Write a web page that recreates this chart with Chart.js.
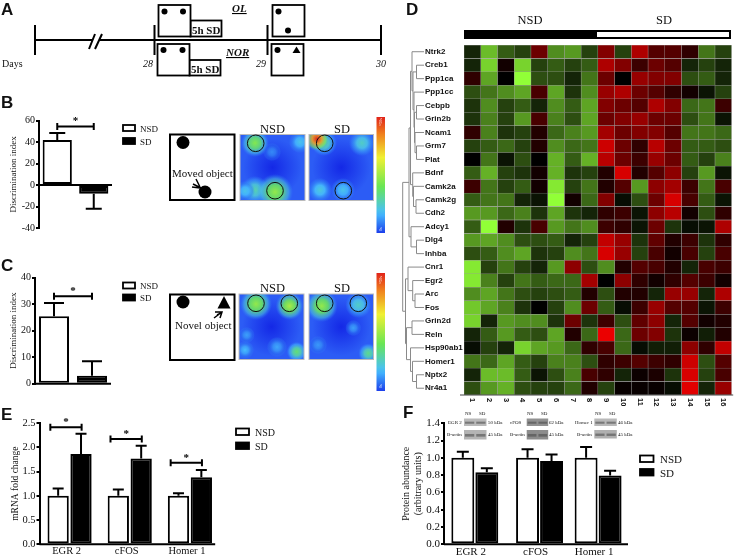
<!DOCTYPE html>
<html>
<head>
<meta charset="utf-8">
<title>Sleep deprivation figure</title>
<script src="https://cdn.jsdelivr.net/npm/chart.js@4"></script>
<style>
    html, body { margin: 0; padding: 0; background: #fff; }
    #page { position: relative; width: 736px; height: 557px; overflow: hidden; }
    #page canvas, #page svg { position: absolute; }
    svg text { font-family: "Liberation Serif", serif; fill: #111; }
    .letter { font-family: "Liberation Sans", sans-serif; font-weight: bold; font-size: 17px; }
</style>
</head>
<body>
<div id="page">
<canvas id="maps" width="736" height="557" style="left:0;top:0"></canvas>
<svg id="art" width="736" height="557" style="left:0;top:0">
    <text class="letter" x="1" y="15">A</text>
    <text class="letter" x="1" y="108">B</text>
    <text class="letter" x="1" y="271">C</text>
    <text class="letter" x="406" y="15">D</text>
    <text class="letter" x="1" y="420">E</text>
    <text class="letter" x="403" y="418">F</text>

    <!-- panel A timeline -->
    <g stroke="#000" fill="none">
        <path d="M35 40H381" stroke-width="1.8"/>
        <path d="M35 25V55M154.500 25V55M267.500 25V55M381 25V55" stroke-width="2"/>
        <path d="M92 40h8" stroke="#fff" stroke-width="4"/>
        <path d="M89 49L95 34M95 49L102 34" stroke-width="2"/>
        <g stroke-width="1.800" fill="#fff">
            <rect x="190.500" y="20.500" width="31" height="16"/>
            <rect x="158.500" y="5" width="32" height="31.500"/>
            <rect x="189.500" y="60" width="31" height="15.500"/>
            <rect x="157.500" y="44" width="32" height="31.500"/>
            <rect x="272.500" y="5" width="32" height="31.500"/>
            <rect x="271.500" y="44" width="32" height="31.500"/>
        </g>
    </g>
    <g fill="#000">
        <circle cx="164.500" cy="11.500" r="3"/><circle cx="183" cy="11.500" r="3"/>
        <circle cx="163.500" cy="50" r="3"/><circle cx="182.500" cy="50" r="3"/>
        <circle cx="278.500" cy="11.500" r="3"/><circle cx="288" cy="30.500" r="3"/>
        <circle cx="277.500" cy="50" r="3"/><path d="M292.500 53L296.500 46.500L300.500 53Z"/>
    </g>
    <g font-size="11" font-weight="bold">
        <text x="192" y="34">5h SD</text>
        <text x="191" y="73">5h SD</text>
    </g>
    <g font-size="11" font-weight="bold" font-style="italic" text-decoration="underline">
        <text x="232" y="12">OL</text>
        <text x="226" y="56">NOR</text>
    </g>
    <text x="2" y="67" font-size="10">Days</text>
    <g font-size="10" font-style="italic">
        <text x="143" y="67">28</text>
        <text x="256" y="67">29</text>
        <text x="376" y="67">30</text>
    </g>

    <!-- panel B schematic -->
    <rect x="170" y="134.500" width="64.500" height="65.500" fill="none" stroke="#000" stroke-width="2"/>
    <circle cx="183" cy="142.500" r="6.500"/><circle cx="205" cy="192" r="6.500"/>
    <text x="172" y="177" font-size="11">Moved object</text>
    <path d="M193 184L201 188M196 179L200 187M192 187L200 188" stroke="#000" stroke-width="1.500" fill="none"/>
    <text x="272.500" y="133" font-size="12.500" text-anchor="middle">NSD</text>
    <text x="342" y="133" font-size="12.500" text-anchor="middle">SD</text>

    <!-- panel C schematic -->
    <rect x="170" y="294.500" width="64.500" height="65.500" fill="none" stroke="#000" stroke-width="2"/>
    <circle cx="183" cy="302" r="6.500"/><path d="M217.500 308.500L224 296L230.500 308.500Z"/>
    <text x="175" y="329" font-size="11">Novel object</text>
    <path d="M214 318L222 312M215 312L222 312L220 318M217 315L221 313" stroke="#000" stroke-width="1.500" fill="none"/>
    <text x="272.500" y="292" font-size="12.500" text-anchor="middle">NSD</text>
    <text x="342" y="292" font-size="12.500" text-anchor="middle">SD</text>

    <!-- colour bar captions -->
    <g font-size="4" style="fill:#fff">
        <text transform="translate(382,126) rotate(-90)" style="fill:#fff">~50s</text>
        <text transform="translate(382,231) rotate(-90)" style="fill:#fff">0s</text>
        <text transform="translate(382,284) rotate(-90)" style="fill:#fff">~50s</text>
        <text transform="translate(382,388) rotate(-90)" style="fill:#fff">0s</text>
    </g>

    <!-- legends -->
    <g stroke="#000" stroke-width="1.800">
        <rect x="123" y="125" width="12" height="6" fill="#fff"/>
        <rect x="123" y="138" width="12" height="6" fill="#000"/>
        <rect x="123" y="282.500" width="12" height="6" fill="#fff"/>
        <rect x="123" y="294.500" width="12" height="6" fill="#000"/>
        <rect x="236" y="428.500" width="13" height="6.500" fill="#fff"/>
        <rect x="236" y="442.500" width="13" height="6.500" fill="#000"/>
        <rect x="640" y="455.500" width="13.500" height="6.500" fill="#fff"/>
        <rect x="640" y="469" width="13.500" height="6.500" fill="#000"/>
    </g>
    <g font-size="9">
        <text x="140" y="131.500">NSD</text><text x="140" y="144.500">SD</text>
        <text x="140" y="288.500">NSD</text><text x="140" y="301">SD</text>
    </g>
    <g font-size="10">
        <text x="255" y="435.500">NSD</text><text x="255" y="449.500">SD</text>
    </g>
    <g font-size="11">
        <text x="660" y="462.500">NSD</text><text x="660" y="476.500">SD</text>
    </g>

    <!-- panel D header -->
    <text x="530" y="23.500" font-size="12.500" text-anchor="middle">NSD</text>
    <text x="664" y="23.500" font-size="12.500" text-anchor="middle">SD</text>
    <rect x="464.500" y="30.500" width="266" height="8" fill="#000" stroke="#000"/>
    <rect x="597" y="32" width="132" height="5" fill="#fff"/>

    <!-- panel F blot captions -->
    <g font-size="5">
        <text x="465" y="415">NS</text><text x="479" y="415">SD</text>
        <text x="527" y="415">NS</text><text x="541" y="415">SD</text>
        <text x="595" y="415">NS</text><text x="609" y="415">SD</text>
        <text x="448" y="424">EGR 2</text><text x="447" y="436">B-actin</text>
        <text x="488" y="424">50 kDa</text><text x="488" y="436">45 kDa</text>
        <text x="510" y="424">cFOS</text><text x="510" y="436">B-actin</text>
        <text x="549" y="424">62 kDa</text><text x="549" y="436">45 kDa</text>
        <text x="575" y="424">Homer 1</text><text x="577" y="436">B-actin</text>
        <text x="618" y="424">46 kDa</text><text x="618" y="436">45 kDa</text>
    </g>
</svg>
<canvas id="chartB" width="112" height="124" style="left:0;top:112px"></canvas>
<canvas id="chartC" width="111" height="123" style="left:0;top:269px"></canvas>
<canvas id="chartE" width="220" height="143" style="left:0;top:414px"></canvas>
<canvas id="chartF" width="228" height="143" style="left:400px;top:414px"></canvas>
<canvas id="chartD" width="311" height="383" style="left:425px;top:37px"></canvas>
</div>

<script>
const groupNames = ['NSD', 'SD']

// panel B
const movedValues = [42, -8]
const movedErrors = [48.5, -22]
// panel C
const novelValues = [25.5, 3]
const novelErrors = [30.5, 8.5]
// panel E
const mrnaLabels = ['EGR 2', 'cFOS', 'Homer 1']
const mrnaNsd = [1, 1, 1]
const mrnaSd = [1.86, 1.77, 1.38]
const mrnaNsdErrors = [1.15, 1.13, 1.05]
const mrnaSdErrors = [2.28, 2.03, 1.53]
const mrnaBrackets = [2.41, 2.17, 1.68]
// panel F
const proteinLabels = ['EGR 2', 'cFOS', 'Homer 1']
const proteinNsd = [1, 1, 1]
const proteinSd = [0.835, 0.965, 0.795]
const proteinNsdErrors = [1.07, 1.10, 1.125]
const proteinSdErrors = [0.88, 1.04, 0.85]
const proteinGroupX = [0, 1.05, 2]

// panel D, rows are genes, columns samples 1-16, -10 green to 10 red
const genes = ['Ntrk2', 'Creb1', 'Ppp1ca', 'Ppp1cc', 'Cebpb', 'Grin2b', 'Ncam1', 'Grm7', 'Plat',
    'Bdnf', 'Camk2a', 'Camk2g', 'Cdh2', 'Adcy1', 'Dlg4', 'Inhba', 'Cnr1', 'Egr2', 'Arc', 'Fos',
    'Grin2d', 'Reln', 'Hsp90ab1', 'Homer1', 'Nptx2', 'Nr4a1']
const expression = [
    [-1, -7, -3, -2, 4, -5, -5.5, -2, 5, -2, 7, 3, 3, 1.5, -4, -2],
    [-1, -8, 0.5, -8, -2, -3, -2, -3, 7, 5, 2, 4, 3, -1, -2, -1],
    [1.5, -6, 0, -10, -2.5, -2.5, -1, -4, 4, 0, 6, 5, 5, -2.5, -3, -1],
    [-2.5, -4, -5, -6, 2.5, -6, -1.5, -5, 6, 7, 4, 3, 1.5, 0.5, -0.5, -2],
    [-1.5, -5, -2, -3, -1, -5, -3, -6, 5, 4, 3, 7, 5, -3.5, -4, 2],
    [-1.5, -4.5, -2, -5.5, 2.5, -4.5, -2.5, -6, 4, 5, 6, 4, 4, -2.5, -4, -0.5],
    [1.5, -4.5, -1.5, -2, 1, -3.5, -4.5, -5.5, 6.5, 4, 5, 5, 3, -4, -4, -3.5],
    [-2, -3, -3.5, -2, 1, -5, -3.5, -4, 8.5, 4, 1.5, 7.5, 4, -3, -3, -2.5],
    [0, -4, -0.5, -2.5, 0, -6.5, -3, -6.5, 7.5, 4, 2, 6, 4, -3, -2, -4.5],
    [-3, -6.5, -2, -1.5, 0.5, -6.5, -1.5, -2, 1, 9, 1, 3, 5.5, -2, -5.5, -0.5],
    [2, -4, -2, -3, 0.5, -9, -2, -4, 1, 3, -5.5, 5.5, 6.5, 2, -4, 2.5],
    [-3, -4, -4, -1, -0.5, -10, 0.5, -3.5, 5, -0.3, -2.5, 4, 9, 2.5, -3, -0.5],
    [-5.5, -5.5, -3.5, -4.5, -1.5, -6, -1.5, -1, 1.5, 2, -0.5, 5.5, 7.5, 0.5, -2.5, 1.5],
    [-3, -10, 1, -1.5, 2.5, -5.5, -4, -5, 2, 1.5, -0.5, 4, -1.5, -0.3, -0.5, 7],
    [-5.5, -6, -5, -2.5, -2.5, -3, -1, -2, 8, 6, -1.5, 3.5, 1, 2, -1.5, 1.5],
    [-2.5, -3, -5, -6, -1.5, -2, -5, -4, 9, 6, -2, 2.5, 0.5, 2.5, -2, 2.5],
    [-9, -2, -4, -2, -1, -5.5, 5.5, -2.5, -5, 1, 3, 2.5, 1, -1, 2.5, 2],
    [-9, -4.5, -2, -4, -3, -3.5, -3.5, 6.5, 0, 5.5, 1.5, 0.5, 1.5, 3, 2, 0.5],
    [-5, -6, -4, -2.5, -2, -2.5, -3, 1, -2.5, 1, 1, -1, 6, 6, -1, 7],
    [-7.5, -6, -4.5, -1.5, 0, -2, -5, 4, -3, -0.3, 2, 6, 3, 3, -0.5, 2],
    [-8, -1, -5.5, -5, -5, -1.5, 4, -1.5, 2, -2.5, 3.5, 5.5, -1, 3, 0.5, 1],
    [-1, -3, -5.5, -3, -2.5, -6, 1, -3.5, 10, -3.5, 4, 5, -1.5, 0.3, -0.8, 1],
    [-0.3, -2, -1, -8, -6, -5.5, -3.5, 1.5, 2.5, -3.5, -0.3, -0.8, -0.8, 5.5, 1.5, 8],
    [-4, -3.5, -6, -3, -2, -4.5, -4.5, -2.5, 1.5, 2, 3, 2, 1.5, 8.5, -2.5, 3],
    [-1, -7, -7, -3, -0.5, -2.5, -4.5, 2.5, 1.5, -1, 0.3, 0.8, -1.5, 9, -2, 2.5],
    [-2.5, -5.5, -6.5, -2.5, -2, -2, -3.5, 1, -2, 0.2, 0.2, 0.2, -0.3, 9.5, -1, 6]
]

const serif = 'Liberation Serif'

// whiskers, significance brackets and the zero line on top of the bars
function barMarks ({errors, capHalf, brackets, tick, baseValue, baseEnd}) {
    return {
        id: 'barMarks',
        afterDatasetsDraw (chart) {
            const {ctx, scales: {x, y}, chartArea} = chart
            ctx.save()
            ctx.strokeStyle = '#000'
            ctx.fillStyle = '#000'
            ctx.lineWidth = 2
            errors.forEach((list, i) => {
                chart.getDatasetMeta(i).data.forEach((bar, j) => {
                    if (list[j] === null) return
                    const ey = y.getPixelForValue(list[j])
                    ctx.beginPath()
                    ctx.moveTo(bar.x, bar.y)
                    ctx.lineTo(bar.x, ey)
                    ctx.moveTo(bar.x - capHalf, ey)
                    ctx.lineTo(bar.x + capHalf, ey)
                    ctx.stroke()
                })
            })
            brackets.forEach(b => {
                const x0 = x.getPixelForValue(b.from)
                const x1 = x.getPixelForValue(b.to)
                const by = y.getPixelForValue(b.y)
                ctx.beginPath()
                ctx.moveTo(x0, by - tick)
                ctx.lineTo(x0, by + tick)
                ctx.moveTo(x1, by - tick)
                ctx.lineTo(x1, by + tick)
                ctx.moveTo(x0, by)
                ctx.lineTo(x1, by)
                ctx.stroke()
                ctx.font = 'bold 11px "' + serif + '"'
                ctx.textAlign = 'center'
                ctx.textBaseline = 'middle'
                ctx.fillText('*', (x0 + x1) / 2, by - 5)
            })
            const base = y.getPixelForValue(baseValue)
            const end = baseEnd === undefined ? chartArea.right : x.getPixelForValue(baseEnd)
            ctx.beginPath()
            ctx.moveTo(chartArea.left, base)
            ctx.lineTo(end, base)
            ctx.stroke()
            ctx.restore()
        }
    }
}

function barChart (id, opts) {
    const {labels, series, grouped, yMin, yMax, step, digits, title, fontSize, titleFont, titlePad, yWidth, xHeight,
        pad, category, bar, xOptions} = opts
    const fills = ['#fff', '#000']
    return new Chart(document.getElementById(id), {
        type: 'bar',
        data: {
            labels: labels,
            datasets: series.map((values, i) => ({
                label: groupNames[i],
                data: values,
                backgroundColor: fills[i],
                borderColor: '#000',
                borderWidth: 2,
                borderSkipped: false,
                grouped: grouped,
                categoryPercentage: category,
                barPercentage: bar
            }))
        },
        options: {
            responsive: false,
            animation: false,
            layout: {padding: pad},
            plugins: {legend: {display: false}, tooltip: {enabled: false}},
            scales: {
                x: Object.assign({
                    display: xHeight > 0,
                    grid: {display: false, drawTicks: false},
                    border: {display: false},
                    ticks: {color: '#111', padding: 1, labelOffset: -3, maxRotation: 0,
                        font: {family: serif, size: fontSize}},
                    afterFit: s => { s.height = xHeight }
                }, xOptions),
                y: {
                    min: yMin,
                    max: yMax,
                    grid: {drawOnChartArea: false, color: '#000', lineWidth: 2, tickLength: 3},
                    border: {display: true, color: '#000', width: 2},
                    ticks: {stepSize: step, autoSkip: false, color: '#111', padding: 1,
                        font: {family: serif, size: fontSize},
                        callback: v => v.toFixed(digits)},
                    title: {display: true, text: title, color: '#111', padding: {top: titlePad, bottom: 0},
                        font: {family: serif, size: titleFont, lineHeight: 1.2}},
                    afterFit: s => { s.width = yWidth }
                }
            }
        },
        plugins: [barMarks(opts)]
    })
}

barChart('chartB', {
    labels: groupNames, series: [[movedValues[0], null], [null, movedValues[1]]], grouped: false,
    errors: [[movedErrors[0], null], [null, movedErrors[1]]],
    yMin: -40, yMax: 60, step: 20, digits: 0, title: 'Discrimination index', fontSize: 10, titleFont: 9,
    titlePad: 8, yWidth: 39, xHeight: 0, pad: {top: 8.7, bottom: 8, left: 0, right: 0},
    category: 0.8, bar: 1, capHalf: 8, tick: 3.5, baseValue: 0,
    brackets: [{from: 0, to: 1, y: 54.6}]
})

barChart('chartC', {
    labels: groupNames, series: [[novelValues[0], null], [null, novelValues[1]]], grouped: false,
    errors: [[novelErrors[0], null], [null, novelErrors[1]]],
    yMin: 0, yMax: 40, step: 10, digits: 0, title: 'Discrimination index', fontSize: 10, titleFont: 9,
    titlePad: 8, yWidth: 35, xHeight: 0, pad: {top: 8.7, bottom: 8.3, left: 0, right: 0},
    category: 0.79, bar: 1, capHalf: 10, tick: 3.5, baseValue: 0,
    brackets: [{from: 0, to: 1, y: 33}]
})

barChart('chartE', {
    labels: mrnaLabels, series: [mrnaNsd, mrnaSd], grouped: true, errors: [mrnaNsdErrors, mrnaSdErrors],
    yMin: 0, yMax: 2.5, step: 0.5, digits: 1, title: 'mRNA fold change', fontSize: 10.5, titleFont: 9.5,
    titlePad: 10, yWidth: 39.500, xHeight: 12.7, pad: {top: 9, bottom: 0, left: 0, right: 0},
    category: 0.76, bar: 0.93, capHalf: 5.5, tick: 3.5, baseValue: 0, baseEnd: 2.42,
    brackets: mrnaBrackets.map((y, i) => ({from: i - 0.32, to: i + 0.2, y}))
})

// F has uneven group spacing in the original, so x is linear here
barChart('chartF', {
    labels: proteinGroupX,
    series: [proteinNsd, proteinSd].map(list => list.map((y, i) => ({x: proteinGroupX[i], y}))),
    grouped: true,
    errors: [proteinNsdErrors, proteinSdErrors],
    yMin: 0, yMax: 1.4, step: 0.2, digits: 1, title: ['Protein abundance', '(arbitrary units)'],
    fontSize: 11, titleFont: 10, titlePad: 0, yWidth: 44, xHeight: 12.7,
    pad: {top: 9.3, bottom: 0, left: 0, right: 0},
    category: 0.82, bar: 0.955, capHalf: 6, tick: 3.5, baseValue: 0, brackets: [],
    xOptions: {
        type: 'linear', min: -0.5, max: 2.485, offset: false,
        afterBuildTicks: s => { s.ticks = proteinGroupX.map(value => ({value})) },
        ticks: {color: '#111', padding: 1, labelOffset: -4, maxRotation: 0, font: {family: serif, size: 11},
            callback: v => proteinLabels[proteinGroupX.indexOf(v)]}
    }
})

// heatmap colour, green for negative and red for positive
function cellColor (v) {
    const t = Math.pow(Math.abs(v) / 10, 0.85)
    if (v > 0) return 'rgb(' + Math.round(235 * t) + ',0,0)'
    return 'rgb(' + Math.round(145 * t) + ',' + Math.round(255 * t) + ',' + Math.round(55 * t) + ')'
}

// sample numbers read top to bottom, which the axis itself cannot do on a bottom axis
const sampleLabels = {
    id: 'sampleLabels',
    afterDraw (chart) {
        const {ctx, scales: {x}, chartArea} = chart
        ctx.save()
        ctx.strokeStyle = '#444'
        ctx.lineWidth = 1
        ctx.beginPath()
        ctx.moveTo(chartArea.left - 4, chartArea.bottom)
        ctx.lineTo(chartArea.right + 1.5, chartArea.bottom)
        ctx.stroke()
        ctx.fillStyle = '#111'
        ctx.font = 'bold 7.5px "Liberation Sans"'
        ctx.textAlign = 'left'
        ctx.textBaseline = 'middle'
        expression[0].forEach((_, i) => {
            ctx.save()
            ctx.translate(x.getPixelForValue(i + 0.5), chartArea.bottom + 3)
            ctx.rotate(Math.PI / 2)
            ctx.fillText(String(i + 1), 0, 0)
            ctx.restore()
        })
        ctx.restore()
    }
}

new Chart(document.getElementById('chartD'), {
    type: 'bar',
    data: {
        labels: genes,
        datasets: expression[0].map((_, col) => ({
            label: String(col + 1),
            data: genes.map(() => 1),
            backgroundColor: expression.map(row => cellColor(row[col])),
            borderColor: 'rgba(120,120,120,0.55)',
            borderWidth: 0.5,
            borderSkipped: false,
            barPercentage: 1,
            categoryPercentage: 1
        }))
    },
    options: {
        indexAxis: 'y',
        responsive: false,
        animation: false,
        layout: {padding: {top: 8, right: 4.3, bottom: 0, left: 0}},
        plugins: {legend: {display: false}, tooltip: {enabled: false}},
        scales: {
            x: {
                stacked: true,
                min: 0,
                max: expression[0].length,
                grid: {display: false, drawTicks: false},
                border: {display: false},
                ticks: {display: false},
                afterFit: s => { s.height = 25 }
            },
            y: {
                stacked: true,
                grid: {display: false, drawTicks: false},
                border: {display: false},
                ticks: {color: '#111', crossAlign: 'far', autoSkip: false, padding: 0,
                    font: {family: 'Liberation Sans', size: 8, weight: 'bold'}},
                afterFit: s => { s.width = 39 }
            }
        }
    },
    plugins: [sampleLabels]
})

// dendrogram left of the heatmap
const rowY = i => 45 + 13.46 * (i + 0.5)
const leafX = 424
const node = (x, ...kids) => ({x, kids})
const dendrogram = node(402.7,
    node(409,
        node(410.5,
            node(412, 0, node(413, node(416.5, 1, 2), node(414, 3, node(414.5, node(416.5, 4, 5), node(415, 6, node(416.5, 7, 8)))))),
            node(412.7, 9, node(413.5, 10, node(416, 11, 12)))),
        node(411, 13, node(416.5, 14, 15))),
    node(405.5,
        node(408, 16, node(412.7, 17, node(415, 18, 19))),
        node(406.5, node(412, 20, 21), node(410.5, 22, node(412.5, 23, node(416.5, 24, 25))))))

function drawTree (ctx, n) {
    if (typeof n === 'number') return {x: leafX, y: rowY(n)}
    const ends = n.kids.map(k => drawTree(ctx, k))
    const ys = ends.map(e => e.y)
    ctx.beginPath()
    ctx.moveTo(n.x, Math.min(...ys))
    ctx.lineTo(n.x, Math.max(...ys))
    ends.forEach(e => {
        ctx.moveTo(n.x, e.y)
        ctx.lineTo(e.x, e.y)
    })
    ctx.stroke()
    return {x: n.x, y: (Math.min(...ys) + Math.max(...ys)) / 2}
}

const ctx = document.getElementById('maps').getContext('2d')
ctx.strokeStyle = '#8a8a8a'
ctx.lineWidth = 1
drawTree(ctx, dendrogram)

// occupancy maps, these are pictures in the original
const jetStops = [[0, [28, 62, 235]], [0.17, [70, 190, 255]], [0.4, [105, 230, 85]], [0.65, [240, 240, 50]], [0.85, [240, 130, 30]], [1, [225, 35, 25]]]
function jet (v, alpha) {
    v = Math.max(0, Math.min(1, v))
    let i = 0
    while (i < jetStops.length - 2 && v > jetStops[i + 1][0]) i++
    const [a, ca] = jetStops[i]
    const [b, cb] = jetStops[i + 1]
    const t = (v - a) / (b - a)
    const c = ca.map((p, k) => Math.round(p + (cb[k] - p) * t))
    return 'rgba(' + c.join(',') + ',' + alpha + ')'
}

function heatMap (x, y, w, h, blobs, rings) {
    ctx.save()
    ctx.beginPath()
    ctx.rect(x, y, w, h)
    ctx.clip()
    ctx.fillStyle = 'rgb(44,92,245)'
    ctx.fillRect(x, y, w, h)
    const core = ctx.createRadialGradient(x + w / 2, y + h / 2, 0, x + w / 2, y + h / 2, w * 0.45)
    core.addColorStop(0, 'rgba(20,40,230,1)')
    core.addColorStop(1, 'rgba(20,40,230,0)')
    ctx.fillStyle = core
    ctx.fillRect(x, y, w, h)
    blobs.forEach(([bx, by, r, level]) => {
        const g = ctx.createRadialGradient(bx, by, 0, bx, by, r)
        g.addColorStop(0, jet(level, 1))
        g.addColorStop(0.4, jet(level * 0.8, 0.9))
        g.addColorStop(0.75, jet(level * 0.45, 0.55))
        g.addColorStop(1, jet(0.1, 0))
        ctx.fillStyle = g
        ctx.fillRect(bx - r, by - r, 2 * r, 2 * r)
    })
    ctx.restore()
    ctx.strokeStyle = '#bbb'
    ctx.lineWidth = 1
    ctx.strokeRect(x, y, w, h)
    ctx.strokeStyle = '#111'
    rings.forEach(([cx, cy]) => {
        ctx.beginPath()
        ctx.arc(cx, cy, 8.3, 0, Math.PI * 2)
        ctx.stroke()
    })
}

heatMap(240, 134.5, 65, 66,
    [[255, 143, 14, 0.45], [300, 142, 11, 0.2], [255, 190, 14, 0.28], [245, 191, 10, 0.2], [275, 192, 18, 0.48], [272, 152, 9, 0.1]],
    [[255.7, 143.3], [275, 190.7]])
heatMap(309, 134.5, 64.5, 66,
    [[324, 143, 13, 0.3], [317, 139, 12, 1], [362, 143, 13, 0.25], [320, 190, 12, 0.22], [343, 190, 12, 0.2]],
    [[324.7, 143.3], [343.3, 190.7]])
heatMap(239, 294, 65, 65.5,
    [[256, 304, 16, 0.48], [289.5, 306, 14, 0.52], [296.7, 351.7, 10, 0.36], [245, 350, 9, 0.17], [246.7, 335, 8, 0.13], [277, 347, 10, 0.14]],
    [[256, 303.3], [289.3, 303.3]])
heatMap(309, 294, 64.5, 65.5,
    [[321.7, 306, 16, 0.48], [358.3, 305, 13, 0.25], [368.3, 353.3, 10, 0.33], [353.3, 328, 8, 0.13], [318, 345, 9, 0.12]],
    [[324.7, 303.3], [358.3, 303.3]])

function colorBar (x, y, w, h) {
    const g = ctx.createLinearGradient(0, y + h, 0, y)
    for (let i = 0; i <= 20; i++) g.addColorStop(i / 20, jet(i / 20, 1))
    ctx.fillStyle = g
    ctx.fillRect(x, y, w, h)
}
colorBar(376.5, 117, 8.5, 116)
colorBar(376.5, 273, 8.5, 118)

// western blot strips
function blot (x, y, w, h, shade) {
    ctx.fillStyle = 'rgb(' + shade + ',' + shade + ',' + shade + ')'
    ctx.fillRect(x, y, w, h)
    ctx.fillStyle = 'rgba(70,70,70,0.55)'
    ctx.fillRect(x + 1, y + h * 0.42, w / 2 - 2, h * 0.28)
    ctx.fillRect(x + w / 2 + 1, y + h * 0.42, w / 2 - 2, h * 0.28)
}
blot(464, 418.5, 22.5, 7.5, 185)
blot(464, 430, 22.5, 9.5, 180)
blot(526.7, 418.5, 21.5, 7.5, 145)
blot(526.7, 430, 21.5, 9.5, 140)
blot(594.3, 418.5, 22.5, 7.5, 185)
blot(594.3, 430, 22.5, 8.5, 175)
</script>
</body>
</html>
